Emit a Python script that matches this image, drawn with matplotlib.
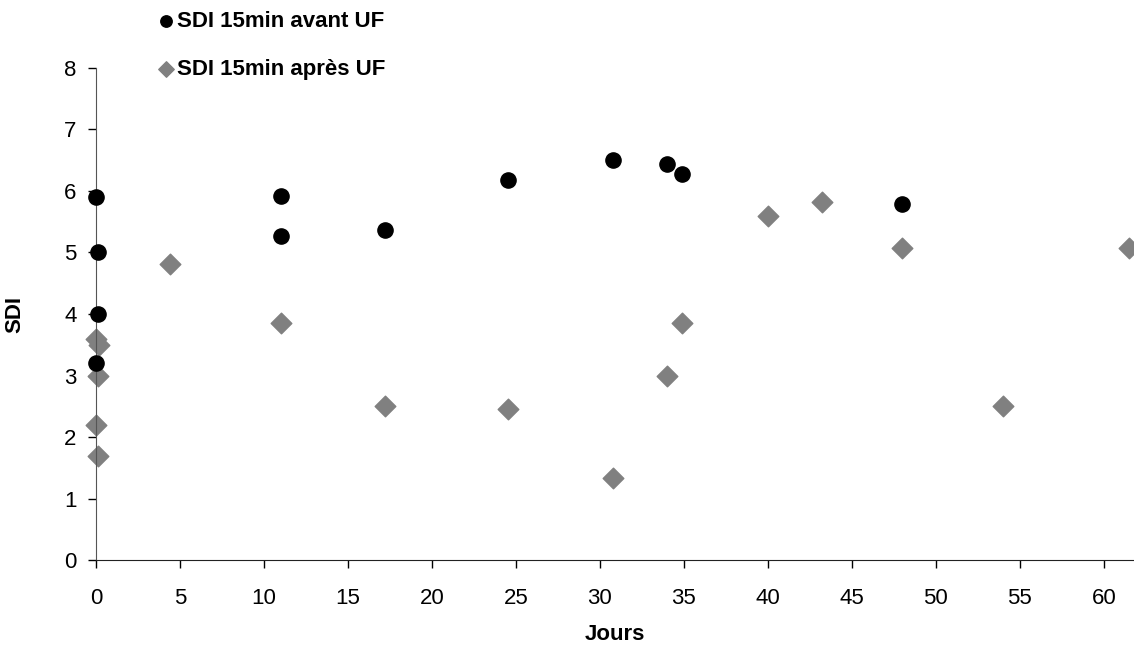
import matplotlib.pyplot as plt

plt.rcParams['font.family'] = ['Liberation Sans', 'DejaVu Sans']

# SDI 15min avant UF
jours_avant = [0, 0.1, 0.1, 0, 11, 11, 17.2, 24.5, 30.8, 34, 34.9, 48]
sdi_avant = [5.9, 5.0, 4.0, 3.2, 5.92, 5.27, 5.37, 6.17, 6.5, 6.43, 6.27, 5.78]

# SDI 15min après UF
jours_apres = [0, 0.2, 0.1, 0, 0.1, 4.4, 11, 17.2, 24.5, 30.8, 34, 34.9,
               40, 43.2, 48, 54, 61.5]
sdi_apres = [3.6, 3.5, 3.0, 2.2, 1.7, 4.82, 3.85, 2.5, 2.45, 1.33, 3.0, 3.85,
             5.6, 5.82, 5.08, 2.5, 5.07]

fig = plt.figure(figsize=(11.34, 6.71), dpi=100)
ax = fig.add_axes([0.0847, 0.165, 0.9153, 0.734])

ax.scatter(jours_avant, sdi_avant, s=120, marker='o', color='black',
           label='SDI 15min avant UF', zorder=3, clip_on=False)
ax.scatter(jours_apres, sdi_apres, s=110, marker='D', color='#808080',
           label='SDI 15min après UF', zorder=2, clip_on=False)

ax.set_xlim(0, 61.8)
ax.set_ylim(0, 8)
ax.set_xticks(range(0, 61, 5))
ax.set_yticks(range(0, 9))
ax.tick_params(labelsize=16, direction='out', length=6, width=1, pad=8)
ax.tick_params(axis='x', pad=14)
ax.spines['top'].set_visible(False)
ax.spines['right'].set_visible(False)
ax.spines['left'].set_color('#555555')
ax.spines['bottom'].set_color('#222222')

ax.set_xlabel('Jours', fontsize=16, fontweight='bold', labelpad=11)
ax.set_ylabel('SDI', fontsize=16, fontweight='bold', labelpad=28)

fig.legend(loc='upper left', bbox_to_anchor=(0.109, 1.013), frameon=False,
           prop={'size': 16, 'weight': 'bold'}, handletextpad=-0.5,
           labelspacing=1.2, markerscale=0.75, scatterpoints=1)

fig.savefig('out.png', dpi=100)
